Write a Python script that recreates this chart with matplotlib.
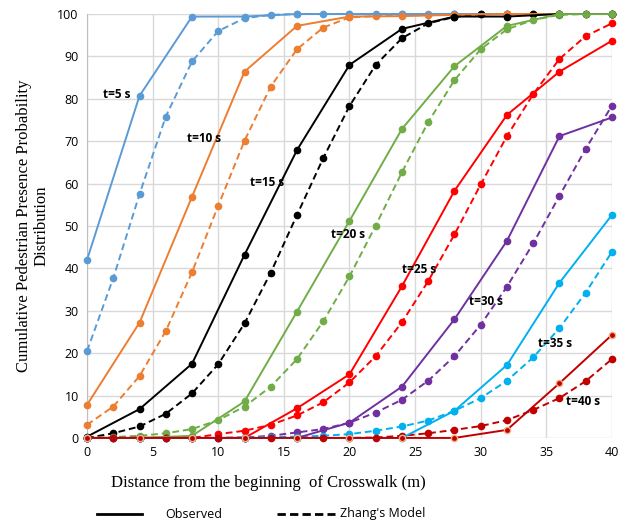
import matplotlib
matplotlib.use("Agg")
import matplotlib.pyplot as plt
from matplotlib.lines import Line2D

# distances (m)
x_obs = [0, 4, 8, 12, 16, 20, 24, 28, 32, 36, 40]
x_mod = [0, 2, 4, 6, 8, 10, 12, 14, 16, 18, 20, 22, 24, 26, 28, 30, 32, 34, 36, 38, 40]

times = ["t=5 s", "t=10 s", "t=15 s", "t=20 s", "t=25 s", "t=30 s", "t=35 s", "t=40 s"]
colors = ["#5B9BD5", "#ED7D31", "#000000", "#70AD47", "#FF0000", "#7030A0", "#00B0F0", "#C00000"]

# observed cumulative distribution (%)
obs = [
    [42.0, 80.7, 99.4, 99.4, 100, 100, 100, 100, 100, 100, 100],
    [7.8, 27.2, 56.9, 86.4, 97.2, 99.4, 99.5, 99.8, 100, 100, 100],
    [0.3, 6.8, 17.5, 43.2, 67.9, 88.0, 96.5, 99.4, 99.4, 100, 100],
    [0, 0, 0.5, 8.6, 29.8, 51.2, 72.9, 87.7, 97.2, 100, 100],
    [0, 0, 0, 0, 7.0, 15.0, 35.8, 58.3, 76.2, 86.4, 93.7],
    [0, 0, 0, 0, 0, 3.6, 12.1, 28.0, 46.5, 71.2, 75.6],
    [0, 0, 0, 0, 0, 0, 0, 6.4, 17.2, 36.6, 52.6],
    [0, 0, 0, 0, 0, 0, 0, 0, 1.9, 12.9, 24.3],
]

# Zhang's model (%)
model = [
    [20.5, 37.7, 57.5, 75.8, 88.8, 96.0, 99.0, 99.8, 100, 100, 100, 100, 100, 100, 100, 100, 100, 100, 100, 100, 100],
    [3.1, 7.4, 14.6, 25.2, 39.1, 54.8, 70.1, 82.9, 91.7, 96.8, 99.2, 99.5, 99.7, 99.8, 100, 100, 100, 100, 100, 100, 100],
    [0, 1.1, 2.7, 5.7, 10.5, 17.4, 27.0, 39.0, 52.6, 66.0, 78.3, 88.0, 94.3, 97.8, 99.3, 100, 100, 100, 100, 100, 100],
    [0, 0.2, 0.5, 1.1, 2.1, 4.2, 7.4, 12.1, 18.6, 27.5, 38.1, 50.1, 62.7, 74.5, 84.4, 91.7, 96.4, 98.6, 99.8, 100, 100],
    [0, 0, 0, 0, 0, 0.9, 1.7, 3.1, 5.3, 8.4, 13.1, 19.3, 27.3, 37.0, 48.0, 59.8, 71.2, 81.1, 89.4, 94.8, 97.8],
    [0, 0, 0, 0, 0, 0, 0.1, 0.5, 1.3, 2.1, 3.6, 6.0, 9.0, 13.5, 19.3, 26.7, 35.7, 45.9, 57.1, 68.2, 78.4],
    [0, 0, 0, 0, 0, 0, 0.1, 0.2, 0.3, 0.5, 0.9, 1.7, 2.7, 4.1, 6.4, 9.4, 13.5, 19.0, 25.9, 34.3, 43.9],
    [0, 0, 0, 0, 0, 0, 0, 0, 0, 0, 0, 0.1, 0.5, 1.1, 1.9, 2.8, 4.2, 6.6, 9.4, 13.4, 18.6],
]

# label anchor (left edge) for each time curve
label_x = [1.2, 7.6, 12.4, 18.6, 24.0, 29.1, 34.4, 36.5]
label_y = [81.1, 70.7, 60.2, 47.9, 39.8, 32.1, 22.3, 8.7]

fig = plt.figure(figsize=(6.27, 5.27), dpi=100)
ax = fig.add_axes([0.1388, 0.169, 0.8372, 0.8044])

for i in range(len(times)):
    c = colors[i]
    ax.plot(x_mod, model[i], color=c, ls=(0, (3.5, 2)), lw=1.4, marker="o", ms=4.5, clip_on=False, zorder=3)
    edge = "#F4B183" if i == 7 else c
    ax.plot(x_obs, obs[i], color=c, ls="-", lw=1.4, marker="o", ms=4.5, mec=edge, clip_on=False, zorder=4)
    ax.text(label_x[i], label_y[i], times[i], fontsize=8.5, fontweight="bold",
            family="Open Sans", va="center", ha="left", zorder=5)

ax.set_xlim(0, 40)
ax.set_ylim(0, 100)
ax.set_xticks(range(0, 41, 5))
ax.set_yticks(range(0, 101, 10))
ax.grid(True, color="#D9D9D9", lw=1)
ax.set_axisbelow(True)
for s in ["top", "right", "bottom"]:
    ax.spines[s].set_visible(False)
ax.spines["left"].set_color("#BFBFBF")
ax.tick_params(length=0, labelsize=9, pad=6)
for lab in ax.get_xticklabels() + ax.get_yticklabels():
    lab.set_family("Open Sans")

ax.set_xlabel("Distance from the beginning  of Crosswalk (m)", family="Liberation Serif",
              fontsize=12, va="center")
ax.xaxis.set_label_coords(0.345, -0.106)
ax.set_ylabel("Cumulative Pedestrian Presence Probability\nDistribution", family="Liberation Serif",
              fontsize=12, va="center", linespacing=1.1)
ax.yaxis.set_label_coords(-0.104, 0.5)

# legend drawn under the plot
ly = 1 - 514 / 527
fig.add_artist(Line2D([97 / 627, 142 / 627], [ly, ly], color="black", lw=2))
fig.text(165 / 627, ly, "Observed", family="Open Sans", fontsize=9, va="center")
fig.add_artist(Line2D([277 / 627, 335 / 627], [ly, ly], color="black", lw=2, ls=(0, (3, 1.5))))
fig.text(340 / 627, ly, "Zhang's Model", family="Open Sans", fontsize=9, va="center")

fig.savefig("out.png", dpi=100)
